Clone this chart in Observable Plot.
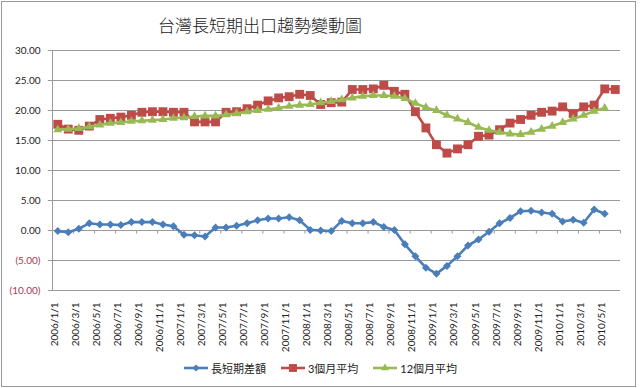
<!DOCTYPE html>
<html><head><meta charset="utf-8">
<script src="https://cdn.jsdelivr.net/npm/d3@7"></script>
<script src="https://cdn.jsdelivr.net/npm/@observablehq/plot@0.6"></script>
<style>
body{margin:0;background:#fff;}
#wrap{position:relative;width:640px;height:388px;overflow:hidden;font-family:Lato,"Noto Sans CJK TC",sans-serif;}
#box{position:absolute;left:1px;top:1px;width:635px;height:386px;border:1px solid #9a9a9a;box-sizing:border-box;}
#title{position:absolute;left:0;top:10px;width:520px;text-align:center;font-family:"Noto Sans CJK TC",sans-serif;font-size:17px;font-weight:300;color:#1a1a1a;line-height:30px;}
#chart{position:absolute;left:0;top:0;}
#legend{position:absolute;left:0;top:360px;width:640px;display:flex;justify-content:center;gap:14px;font-size:11px;color:#222;font-family:Lato,"Noto Sans CJK TC",sans-serif;}
#legend .it{display:flex;align-items:center;gap:2px;}
</style></head>
<body>
<div id="wrap"><div id="box"></div><div id="chart"></div><div id="title">台灣長短期出口趨勢變動圖</div><div id="legend"></div></div>
<script>
const months = ["2006/1/1","2006/2/1","2006/3/1","2006/4/1","2006/5/1","2006/6/1","2006/7/1","2006/8/1","2006/9/1","2006/10/1","2006/11/1","2006/12/1",
"2007/1/1","2007/2/1","2007/3/1","2007/4/1","2007/5/1","2007/6/1","2007/7/1","2007/8/1","2007/9/1","2007/10/1","2007/11/1","2007/12/1",
"2008/1/1","2008/2/1","2008/3/1","2008/4/1","2008/5/1","2008/6/1","2008/7/1","2008/8/1","2008/9/1","2008/10/1","2008/11/1","2008/12/1",
"2009/1/1","2009/2/1","2009/3/1","2009/4/1","2009/5/1","2009/6/1","2009/7/1","2009/8/1","2009/9/1","2009/10/1","2009/11/1","2009/12/1",
"2010/1/1","2010/2/1","2010/3/1","2010/4/1","2010/5/1","2010/6/1"];
const diffValues = [-0.1,-0.3,0.3,1.2,1.0,1.0,0.9,1.4,1.4,1.4,1.0,0.7,-0.7,-0.8,-1.0,0.5,0.5,0.8,1.2,1.7,2.0,2.0,2.2,1.7,0.1,0.0,-0.1,1.6,1.2,1.2,1.4,0.6,0.1,-2.3,-4.3,-6.2,-7.2,-5.9,-4.3,-2.5,-1.5,-0.2,1.2,2.1,3.2,3.3,3.0,2.8,1.5,1.8,1.3,3.5,2.8];
const avg3Values = [17.7,16.9,16.7,17.4,18.5,18.7,18.9,19.2,19.7,19.8,19.8,19.7,19.7,18.1,18.1,18.1,19.7,19.8,20.3,20.9,21.6,22.1,22.3,22.7,22.5,21.0,21.3,21.4,23.5,23.5,23.6,24.2,23.2,22.7,19.8,17.1,14.3,12.9,13.6,14.3,15.7,15.9,16.8,17.9,18.5,19.2,19.7,19.9,20.6,19.5,20.6,20.9,23.6,23.5];
const avg12Values = [16.8,16.9,17.0,17.3,17.6,17.9,18.0,18.2,18.3,18.4,18.5,18.7,18.8,19.0,19.1,19.1,19.3,19.5,19.8,20.0,20.2,20.4,20.7,20.9,21.0,21.3,21.5,21.8,22.1,22.4,22.5,22.5,22.4,22.0,21.2,20.5,20.0,19.2,18.6,18.0,17.2,16.7,16.4,16.1,16.0,16.4,16.9,17.4,18.0,18.6,19.2,19.9,20.4];
const seriesNames = ["長短期差額","3個月平均","12個月平均"];
const seriesColors = ["#4a7ebb","#be4b48","#98b954"];
const seriesSymbols = ["diamond2","square","triangle"];
const seriesRadii = [3.6,5,3.3];
const yTicks = [-10,-5,0,5,10,15,20,25,30];

const seriesValues = [diffValues, avg3Values, avg12Values];
const labelIdx = months.map((m,i)=>i).filter(i=>i%2===0);
const boundaries = d3.range(0, months.length+1, 2).map(k=>k-0.5);
const fmt = d => d<0 ? "(" + Math.abs(d).toFixed(2) + ")" : d.toFixed(2);
const grid = "#9a9a9a";

const seriesMarks = seriesValues.flatMap((vals, s) => {
  const rows = vals.map((v,i)=>({i, v}));
  return [
    Plot.line(rows,{x:"i",y:"v",stroke:seriesColors[s],strokeWidth:2.6}),
    Plot.dot(rows,{x:"i",y:"v",symbol:seriesSymbols[s],r:seriesRadii[s],fill:seriesColors[s],stroke:"none"})
  ];
});

const chart = Plot.plot({
  width:640, height:388,
  marginLeft:52, marginRight:20, marginTop:50, marginBottom:98,
  x:{type:"linear", domain:[-0.5, months.length-0.5], axis:null},
  y:{domain:[-10,30], axis:null},
  style:{background:"transparent", fontFamily:"Lato, 'Noto Sans CJK TC', sans-serif"},
  marks:[
    Plot.ruleY(yTicks,{stroke:grid, strokeWidth:1}),
    Plot.ruleX([-0.5],{stroke:grid}),
    Plot.ruleY(yTicks,{x1:-0.5-0.4, x2:-0.5, stroke:grid}),
    Plot.ruleX(boundaries,{y1:0, y2:-0.6, stroke:grid}),
    Plot.text(yTicks.filter(d=>d>=0),{y:d=>d, frameAnchor:"left", dx:-12, textAnchor:"end", text:fmt, fill:"#222", fontSize:10}),
    Plot.text(yTicks.filter(d=>d<0),{y:d=>d, frameAnchor:"left", dx:-12, textAnchor:"end", text:fmt, fill:"#a33a55", fontSize:10}),
    Plot.text(labelIdx,{x:d=>d, frameAnchor:"bottom", rotate:-90, textAnchor:"end", dy:12, text:d=>months[d], fill:"#222", fontSize:10}),
    ...seriesMarks
  ]
});
document.getElementById("chart").appendChild(chart);

// legend
const symbolMap = {diamond2:d3.symbolDiamond2, square:d3.symbolSquare, triangle:d3.symbolTriangle};
const legend = d3.select("#legend");
seriesNames.forEach((name, s) => {
  const it = legend.append("div").attr("class","it");
  const svg = it.append("svg").attr("width",26).attr("height",12);
  svg.append("line").attr("x1",1).attr("x2",25).attr("y1",6).attr("y2",6).attr("stroke",seriesColors[s]).attr("stroke-width",2.6);
  svg.append("path").attr("transform","translate(13,6)").attr("d", d3.symbol(symbolMap[seriesSymbols[s]], Math.PI*seriesRadii[s]*seriesRadii[s]*0.8)()).attr("fill",seriesColors[s]);
  it.append("span").text(name);
});
</script>
</body></html>
